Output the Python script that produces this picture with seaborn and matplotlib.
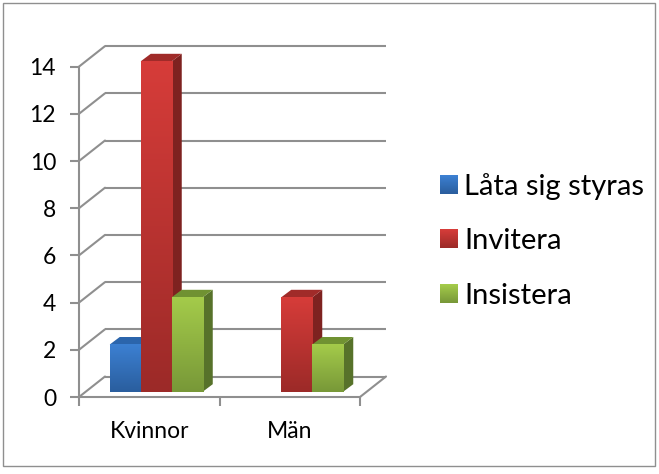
import numpy as np
import pandas as pd
import matplotlib
matplotlib.use("Agg")
import matplotlib.pyplot as plt
from matplotlib.colors import to_rgb
from matplotlib.patches import Polygon, Rectangle
from matplotlib.transforms import Affine2D
import seaborn as sns

categories = ["Kvinnor", "Män"]
series_names = ["Låta sig styras", "Invitera", "Insistera"]
lata = [2, np.nan]
invitera = [14, 4]
insistera = [4, 2]
y_ticks = [0, 2, 4, 6, 8, 10, 12, 14]

front_top = ["#3C80D2", "#D63C39", "#A4CB4A"]
front_bottom = ["#2A5E9E", "#9C2A28", "#789838"]
side_cols = ["#234F86", "#7E2220", "#57722A"]
top_cols = ["#2B65AC", "#A02B29", "#709232"]
GRID = "#8F8F8F"

W, H = 659, 474
sns.set_theme(style="white")
plt.rcParams["font.family"] = ["Lato", "DejaVu Sans"]

df = pd.DataFrame({
    "kategori": categories * 3,
    "serie": [s for s in series_names for _ in categories],
    "antal": lata + invitera + insistera,
})

fig = plt.figure(figsize=(W / 100, H / 100), dpi=100)
fig.patches.append(Rectangle((3 / W, 1 - 466 / H), 652 / W, 463 / H, transform=fig.transFigure,
                             facecolor="white", edgecolor=GRID, lw=1.0, zorder=-5))
ax = fig.add_axes([79 / W, 1 - 397 / H, 281 / W, 330.4 / H])
ax.patch.set_alpha(0)

palette = dict(zip(series_names, front_top))
sns.barplot(data=df, x="kategori", y="antal", hue="serie", hue_order=series_names,
            order=categories, palette=palette, width=0.662, gap=0, saturation=1,
            ax=ax, legend=True, errorbar=None)
ax.set_xlim(-0.5, 1.5)
ax.set_ylim(0, 14)
ax.set_xlabel("")
ax.set_ylabel("")

# Axis styling
for s in ["top", "right"]:
    ax.spines[s].set_visible(False)
for s in ["left", "bottom"]:
    ax.spines[s].set_color(GRID)
    ax.spines[s].set_linewidth(1.5)
ax.set_yticks(y_ticks)
ax.set_xticks([0, 1], categories)
ax.set_xticks([-0.5, 0.5, 1.5], minor=True)
ax.tick_params(axis="y", length=6.5, width=1.5, color=GRID, pad=10, labelsize=16.5, labelcolor="black", left=True)
ax.tick_params(axis="x", which="major", length=0, pad=17, labelsize=16.5, labelcolor="black", bottom=False)
ax.tick_params(axis="x", which="minor", length=6.5, width=1.5, color=GRID, bottom=True)

# Pseudo-3D geometry, display pixels
fig.canvas.draw()
wall = Affine2D().translate(26, 20.5)
bar_front = Affine2D().translate(7, 5.3)
DX, DY = 10, 7.5
to_px = ax.transData.transform
wall_tf = ax.transData + wall

# Back wall gridlines and left wall diagonals
for v in y_ticks:
    ax.hlines(v, -0.5, 1.5, colors=GRID, lw=1.5, transform=wall_tf, clip_on=False, zorder=0.5)
    p0 = to_px((-0.5, v))
    ax.add_line(plt.Line2D([p0[0], p0[0] + 26], [p0[1], p0[1] + 20.5], transform=None,
                           color=GRID, lw=1.5, clip_on=False, zorder=0.5))
p0 = to_px((1.5, 0))
ax.add_line(plt.Line2D([p0[0], p0[0] + 26], [p0[1], p0[1] + 20.5], transform=None,
                       color=GRID, lw=1.5, clip_on=False, zorder=0.5))

# Turn seaborn's bars into shaded boxes
lim_x, lim_y = ax.get_xlim(), ax.get_ylim()
bars = [p for p in ax.patches if np.isfinite(p.get_height()) and p.get_height() > 0]
key_to_idx = {matplotlib.colors.to_hex(c): i for i, c in enumerate(front_top)}
bars.sort(key=lambda p: p.get_x())
z = 2.0
for p in bars:
    idx = key_to_idx[matplotlib.colors.to_hex(p.get_facecolor())]
    x0, w, h = p.get_x(), p.get_width(), p.get_height()
    tf = ax.transData + bar_front
    (l, b), (r, t) = tf.transform((x0, 0)), tf.transform((x0 + w, h))
    side = Polygon([(r, b), (r + DX, b + DY), (r + DX, t + DY), (r, t)], closed=True, transform=None,
                   facecolor=side_cols[idx], edgecolor="none", clip_on=False, zorder=z)
    top = Polygon([(l, t), (l + DX, t + DY), (r + DX, t + DY), (r, t)], closed=True, transform=None,
                  facecolor=top_cols[idx], edgecolor="none", clip_on=False, zorder=z)
    ax.add_patch(side)
    ax.add_patch(top)
    p.set_transform(tf)
    p.set_clip_on(False)
    p.set_zorder(z + 0.1)
    p.set_edgecolor("none")
    grad = np.linspace(to_rgb(front_top[idx]), to_rgb(front_bottom[idx]), 64)[:, None, :]
    im = ax.imshow(grad, extent=(x0, x0 + w, 0, h), aspect="auto", origin="upper",
                   transform=tf, zorder=z + 0.2, clip_on=False, interpolation="bilinear")
    z += 1
ax.set_xlim(lim_x)
ax.set_ylim(lim_y)

# Legend
sns.move_legend(ax, "upper left", bbox_to_anchor=(428 / W, 1 - 161 / H), bbox_transform=fig.transFigure,
                frameon=False, title=None, fontsize=21, handlelength=0.62, handleheight=0.62,
                handletextpad=0.22, labelspacing=0.98, borderpad=0.4, borderaxespad=0)
leg = ax.get_legend()
leg.set_zorder(20)
for t in leg.get_texts():
    t.set_color("black")
fig.canvas.draw()
for i, hd in enumerate(leg.legend_handles):
    bb = hd.get_window_extent()
    n = max(int(round(bb.height)), 2)
    m = max(int(round(bb.width)), 2)
    grad = np.linspace(to_rgb(front_top[i]), to_rgb(front_bottom[i]), n)[:, None, :]
    grad = np.repeat(grad, m, axis=1)
    fig.figimage(grad, xo=int(round(bb.x0)), yo=int(round(bb.y0)), origin="upper", zorder=30)

fig.savefig("out.png", dpi=100)
